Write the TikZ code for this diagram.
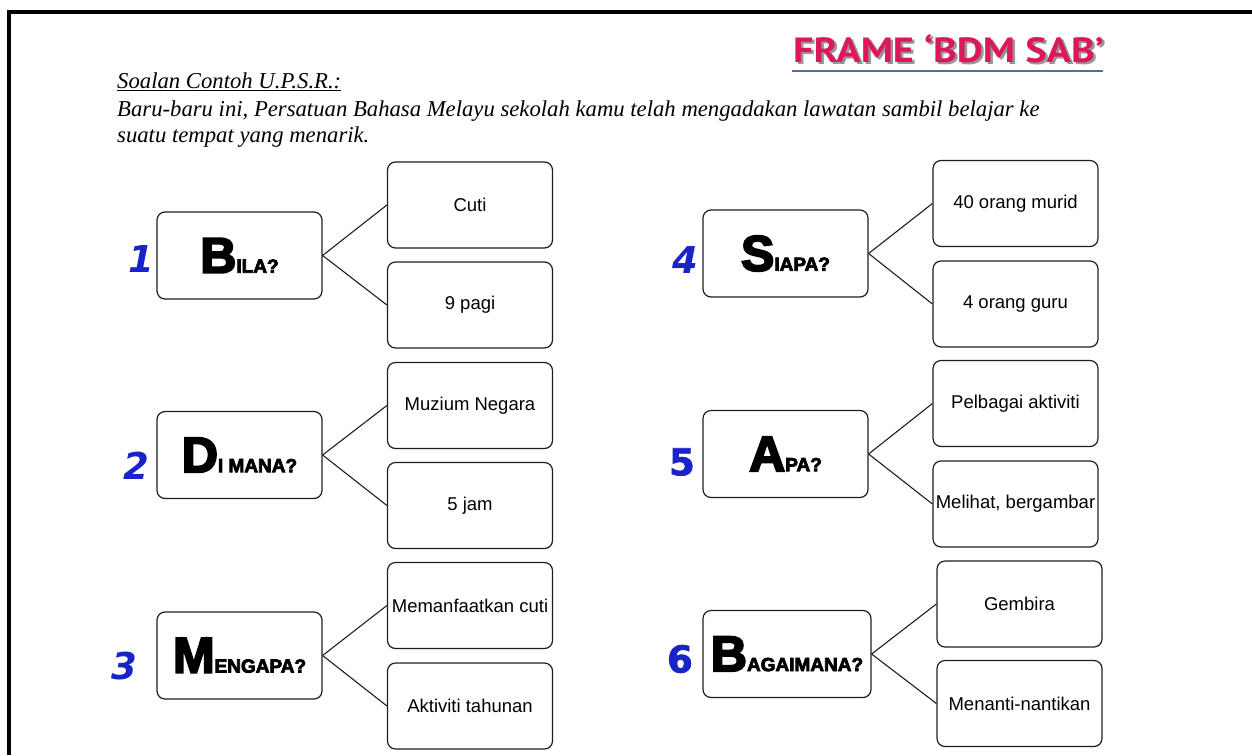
\documentclass[tikz,border=0pt]{standalone}
\usepackage{fontspec}
\setmainfont{Liberation Serif}
\newfontfamily\ansfont{Liberation Sans}
\newfontfamily\heavyfont{Liberation Sans}[BoldFeatures={FakeBold=4}]
\newfontfamily\digitfont{DejaVu Sans}[BoldFeatures={FakeBold=2}]
\newfontfamily\titlefont{PT Sans}
\definecolor{linec}{RGB}{30,30,30}
\definecolor{numblue}{RGB}{25,35,200}
\definecolor{titlepink}{RGB}{222,24,88}
\definecolor{shadowgrey}{RGB}{150,150,160}
\definecolor{ulblue}{RGB}{85,110,160}
\newcommand\qtext[2]{{\heavyfont\bfseries\fontsize{50}{50}\selectfont #1}{\heavyfont\bfseries\fontsize{19}{19}\selectfont #2}}
\newcommand\titletext{\scalebox{1.15}[1]{\titlefont\bfseries\fontsize{35}{35}\selectfont FRAME ‘BDM SAB’}}
\begin{document}
\begin{tikzpicture}[x=1pt,y=-1pt,
  qbox/.style={draw=linec, line width=1.2pt, rounded corners=8pt, minimum width=165pt, minimum height=87pt, inner sep=0pt},
  abox/.style={draw=linec, line width=1.2pt, rounded corners=8pt, minimum width=165pt, minimum height=86pt, inner sep=0pt, font=\ansfont\fontsize{18.5}{18.5}\selectfont},
  numit/.style={text=numblue, font=\digitfont\bfseries\itshape\fontsize{37}{37}\selectfont, inner sep=0pt},
  numup/.style={text=numblue, font=\digitfont\bfseries\fontsize{37}{37}\selectfont, inner sep=0pt},
  conn/.style={draw=linec, line width=1.1pt},
  para/.style={anchor=base west, inner sep=0pt, font=\itshape\fontsize{22.7}{22.7}\selectfont}]
\useasboundingbox (0,0) rectangle (1252,755);
% frame
\draw[line width=4pt] (9,755) -- (9,12) -- (1252,12);
% title
\node[anchor=base west, inner sep=0pt, text=shadowgrey] (tshadow) at (795.5,64) {\titletext};
\node[anchor=base west, inner sep=0pt, text=titlepink] (title) at (793,62) {\titletext};
\draw[ulblue, line width=2pt] (792,71) -- (1103,71);
% question text
\node[para] (soalan) at (117,88) {\underline{Soalan Contoh U.P.S.R.:}};
\node[para] (line2) at (117,116) {Baru-baru ini, Persatuan Bahasa Melayu sekolah kamu telah mengadakan lawatan sambil belajar ke};
\node[para] (line3) at (117,142) {suatu tempat yang menarik.};
% left column
\node[qbox] (q1) at (239.5,255.5) {\qtext{B}{ILA?}};
\node[qbox] (q2) at (239.5,455) {\qtext{D}{I MANA?}};
\node[qbox] (q3) at (239.5,655.5) {\qtext{M}{ENGAPA?}};
\node[abox] (a1) at (470,205) {Cuti};
\node[abox] (b1) at (470,305) {9 pagi};
\node[abox] (a2) at (470,405.5) {Muzium Negara};
\node[abox] (b2) at (470,505.5) {5 jam};
\node[abox] (a3) at (470,605.5) {Memanfaatkan cuti};
\node[abox] (b3) at (470,706) {Aktiviti tahunan};
% right column
\node[qbox] (q4) at (785.5,253.5) {\qtext{S}{IAPA?}};
\node[qbox] (q5) at (785.5,454) {\qtext{A}{PA?}};
\node[qbox, minimum width=168pt] (q6) at (787,654) {\qtext{B}{AGAIMANA?}};
\node[abox] (a4) at (1015.5,203.5) {40 orang murid};
\node[abox] (b4) at (1015.5,304) {4 orang guru};
\node[abox] (a5) at (1015.5,403.5) {Pelbagai aktiviti};
\node[abox] (b5) at (1015.5,504) {Melihat, bergambar};
\node[abox] (a6) at (1019.5,604) {Gembira};
\node[abox] (b6) at (1019.5,703.5) {Menanti-nantikan};
% connectors
\foreach \i in {1,...,6}{
  \draw[conn] (q\i.east) -- (a\i.west);
  \draw[conn] (q\i.east) -- (b\i.west);
}
% numbers
\node[numit] (n1) at (141,259) {1};
\node[numit] (n2) at (136,466) {2};
\node[numit] (n3) at (124,666) {3};
\node[numit] (n4) at (685,260) {4};
\node[numup] (n5) at (682,462) {5};
\node[numup] (n6) at (680,659) {6};
\end{tikzpicture}
\end{document}
